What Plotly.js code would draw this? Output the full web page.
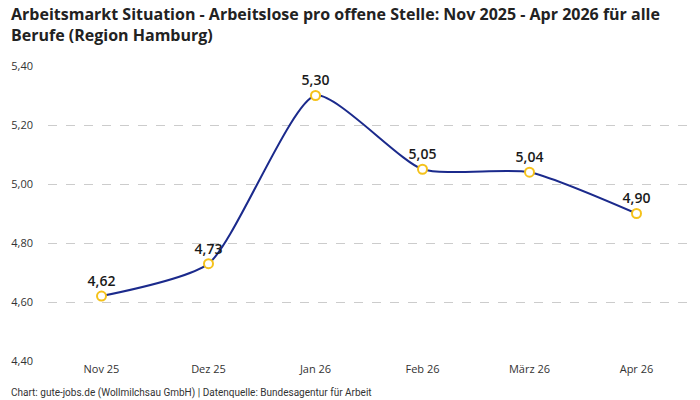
<!DOCTYPE html>
<html>
<head>
<meta charset="utf-8">
<script src="https://cdn.plot.ly/plotly-3.0.1.min.js"></script>
<style>html,body{margin:0;padding:0;background:#fff;}#chart{width:700px;height:400px;}</style>
</head>
<body>
<div id="chart"></div>
<script>
const categories = ["Nov 25", "Dez 25", "Jan 26", "Feb 26", "März 26", "Apr 26"];
const values = [4.62, 4.73, 5.30, 5.05, 5.04, 4.90];
const yTicks = [4.40, 4.60, 4.80, 5.00, 5.20, 5.40];
const titleText = "Arbeitsmarkt Situation - Arbeitslose pro offene Stelle: Nov 2025 - Apr 2026 für alle<br>Berufe (Region Hamburg)";
const footerText = "Chart: gute-jobs.de (Wollmilchsau GmbH) | Datenquelle: Bundesagentur für Arbeit";

const font = "'Open Sans', Roboto, sans-serif";
const smallFont = "Roboto, 'Open Sans', sans-serif";

const trace = {
  x: categories,
  y: values,
  type: "scatter",
  mode: "lines+markers+text",
  line: {color: "#1b2a8c", width: 2, shape: "spline", smoothing: 0.6},
  marker: {size: 9, color: "#ffffff", line: {color: "#f5c21b", width: 2}},
  text: values.map(v => v.toFixed(2).replace(".", ",")),
  textposition: "top center",
  textfont: {family: font, size: 14, color: "#1a1a1a", weight: 600},
  cliponaxis: false,
  hoverinfo: "none"
};

const layout = {
  width: 700, height: 400,
  margin: {l: 48, r: 10, t: 66, b: 39},
  paper_bgcolor: "#fff", plot_bgcolor: "#fff",
  separators: ",.",
  showlegend: false,
  font: {family: font, color: "#333"},
  xaxis: {
    type: "category",
    range: [-0.5, 5.5],
    showgrid: false, zeroline: false, showline: false,
    ticks: "",
    tickfont: {family: font, size: 11, color: "#333"},
    fixedrange: true
  },
  yaxis: {
    range: [4.4, 5.4],
    tickvals: yTicks,
    tickformat: ".2f",
    showgrid: true, gridcolor: "#cccccc", griddash: "dash", gridwidth: 1,
    zeroline: false, showline: false,
    ticks: "", ticklabelstandoff: 14,
    tickfont: {family: font, size: 11, color: "#333"},
    fixedrange: true
  },
  annotations: [{
    text: "<b>" + titleText + "</b>",
    xref: "paper", yref: "paper",
    x: -0.061, y: 1.22, xanchor: "left", yanchor: "top", align: "left",
    showarrow: false,
    font: {family: font, size: 16, color: "#222"}
  }, {
    text: footerText,
    xref: "paper", yref: "paper",
    x: -0.061, y: -0.1085, xanchor: "left", yanchor: "middle", align: "left",
    showarrow: false,
    font: {family: smallFont, size: 10, color: "#333"}
  }]
};

Plotly.newPlot("chart", [trace], layout, {displayModeBar: false, staticPlot: true});
</script>
</body>
</html>
